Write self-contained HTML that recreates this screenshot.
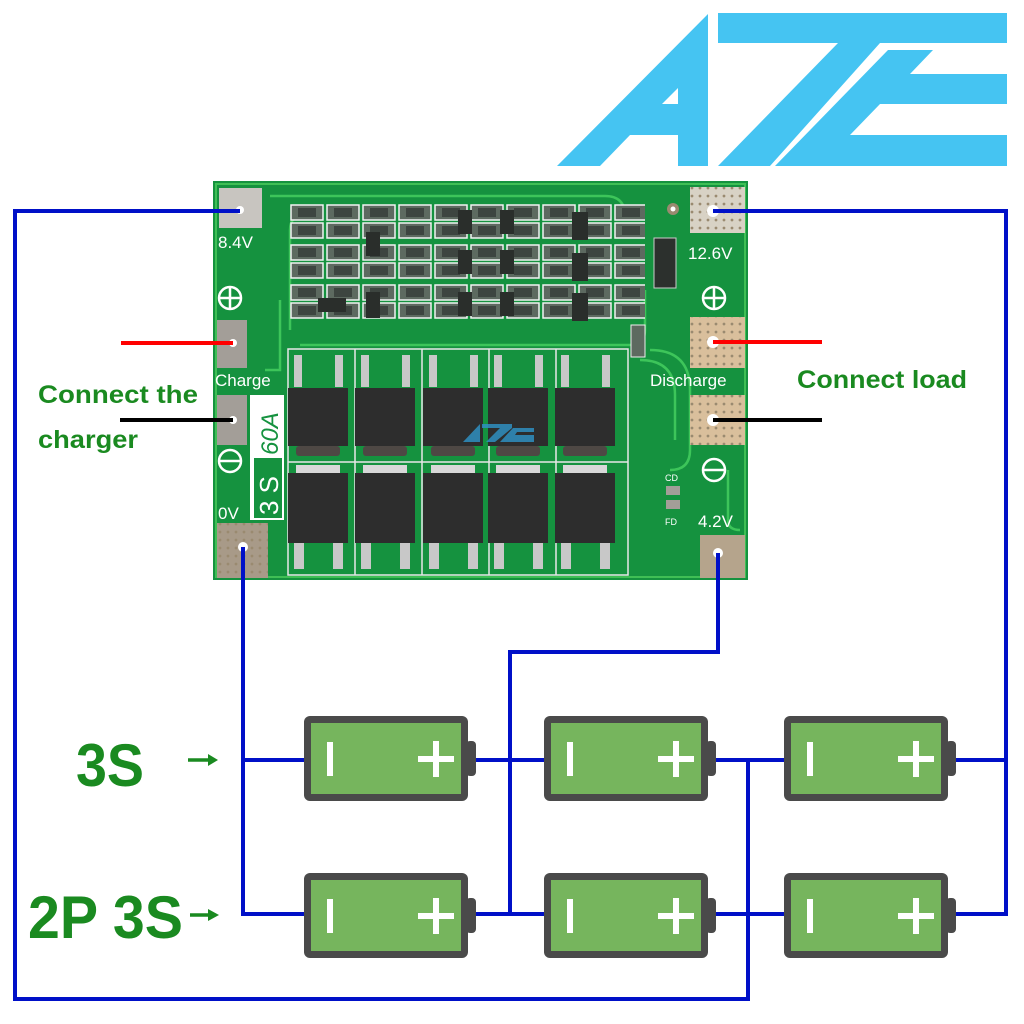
<!DOCTYPE html>
<html><head><meta charset="utf-8"><style>
html,body{margin:0;padding:0;background:#fff}
svg{display:block}
</style></head><body>
<svg width="1024" height="1024" viewBox="0 0 1024 1024" xmlns="http://www.w3.org/2000/svg">
<defs>
<pattern id="smd" x="290" y="203" width="36" height="40" patternUnits="userSpaceOnUse">
 <rect x="1" y="2" width="32" height="15" fill="#5d6a60" stroke="#f2f2f2" stroke-width="1.5"/>
 <rect x="8" y="5" width="18" height="9" fill="#3d4540"/>
 <rect x="1" y="20" width="32" height="15" fill="#5d6a60" stroke="#f2f2f2" stroke-width="1.5"/>
 <rect x="8" y="23" width="18" height="9" fill="#3d4540"/>
</pattern>
<pattern id="dots" width="8" height="8" patternUnits="userSpaceOnUse">
 <circle cx="4" cy="4" r="1.4" fill="#9a8a70"/>
</pattern>
</defs>
<rect width="1024" height="1024" fill="#fff"/>

<!-- logo -->
<g fill="#45c4f2">
 <polygon points="557,166 708,14 708,166 678,166 678,135 630,135 600,166"/>
 <polygon points="718,13 1007,13 1007,43 880,43 770,166 718,166 838,43 718,43"/>
 <polygon points="888,50 933,50 910,74 1007,74 1007,104 880,104 850,135 1007,135 1007,166 775,166"/>
</g>
<polygon points="662,104 678,88 678,104" fill="#fff"/>

<!-- PCB -->
<rect x="213" y="181" width="535" height="399" fill="#15923f"/>
<rect x="216" y="184" width="529" height="393" fill="none" stroke="#3fbf55" stroke-width="2"/>
<g fill="none" stroke="#3dc55a" stroke-width="2.5">
 <path d="M270,196 H605 Q625,196 625,216"/>
 <path d="M290,330 V230 Q290,215 305,215"/>
 <path d="M300,345 H630 Q645,345 645,330 V290"/>
 <path d="M265,370 H280 V300"/>
 <path d="M650,350 Q690,350 690,390 V450 Q690,470 670,470"/>
 <path d="M640,360 Q675,360 675,395 V440"/>
 <path d="M728,470 V520 Q728,530 740,530"/>
</g>
<rect x="290" y="203" width="355" height="120" fill="url(#smd)"/>
<g fill="#2a2e2b">
 <rect x="366" y="232" width="14" height="24"/><rect x="458" y="210" width="14" height="24"/>
 <rect x="458" y="250" width="14" height="24"/><rect x="458" y="292" width="14" height="24"/>
 <rect x="500" y="210" width="14" height="24"/><rect x="500" y="250" width="14" height="24"/>
 <rect x="500" y="292" width="14" height="24"/><rect x="572" y="212" width="16" height="28"/>
 <rect x="572" y="253" width="16" height="28"/><rect x="572" y="293" width="16" height="28"/>
 <rect x="318" y="298" width="28" height="14"/><rect x="366" y="292" width="14" height="26"/>
 <rect x="654" y="238" width="22" height="50" fill="#2c302d" stroke="#ccc" stroke-width="1"/>
</g>
<rect x="631" y="325" width="14" height="32" fill="#5d6a60" stroke="#eee"/>
<circle cx="673" cy="209" r="6" fill="#9a8a70"/><circle cx="673" cy="209" r="2.5" fill="#fff"/>

<!-- pads left -->
<rect x="219" y="188" width="43" height="40" fill="#c8c5c0"/>
<circle cx="240" cy="210" r="4" fill="#fff"/>
<text x="218" y="248" font-family="Liberation Sans,sans-serif" font-size="17" fill="#fff">8.4V</text>
<circle cx="230" cy="298" r="11" fill="none" stroke="#fff" stroke-width="2.5"/>
<path d="M219,298 H241 M230,287 V309" stroke="#fff" stroke-width="2.5"/>
<rect x="217" y="320" width="30" height="48" fill="#a39e98"/>
<circle cx="233" cy="343" r="4" fill="#fff"/>
<text x="215" y="386" font-family="Liberation Sans,sans-serif" font-size="17" fill="#fff">Charge</text>
<rect x="217" y="395" width="30" height="50" fill="#a39e98"/>
<circle cx="233" cy="420" r="4" fill="#fff"/>
<circle cx="230" cy="461" r="11" fill="none" stroke="#fff" stroke-width="2.5"/>
<path d="M219,461 H241" stroke="#fff" stroke-width="2.5"/>
<text x="218" y="519" font-family="Liberation Sans,sans-serif" font-size="17" fill="#fff">0V</text>
<rect x="217" y="523" width="51" height="55" fill="#a89a88"/>
<rect x="217" y="523" width="51" height="55" fill="url(#dots)"/>
<circle cx="243" cy="547" r="5" fill="#fff"/>
<rect x="250" y="395" width="34" height="125" fill="#fff"/>
<rect x="254" y="458" width="28" height="60" fill="#15923f"/>
<text transform="translate(278,515) rotate(-90)" font-family="Liberation Sans,sans-serif" font-size="26" fill="#fff">3 S</text>
<text transform="translate(278,455) rotate(-90)" font-family="Liberation Sans,sans-serif" font-size="24" font-style="italic" fill="#15923f">60A</text>

<!-- pads right -->
<rect x="690" y="187" width="55" height="46" fill="#d8d2c5"/>
<rect x="690" y="187" width="55" height="46" fill="url(#dots)"/>
<circle cx="713" cy="211" r="6" fill="#fff"/>
<text x="688" y="259" font-family="Liberation Sans,sans-serif" font-size="17" fill="#fff">12.6V</text>
<circle cx="714" cy="298" r="11" fill="none" stroke="#fff" stroke-width="2.5"/>
<path d="M703,298 H725 M714,287 V309" stroke="#fff" stroke-width="2.5"/>
<rect x="690" y="317" width="55" height="51" fill="#d9bf9c"/>
<rect x="690" y="317" width="55" height="51" fill="url(#dots)"/>
<circle cx="713" cy="342" r="6" fill="#fff"/>
<text x="650" y="386" font-family="Liberation Sans,sans-serif" font-size="17" fill="#fff">Discharge</text>
<rect x="690" y="395" width="55" height="50" fill="#d9bf9c"/>
<rect x="690" y="395" width="55" height="50" fill="url(#dots)"/>
<circle cx="713" cy="420" r="6" fill="#fff"/>
<circle cx="714" cy="470" r="11" fill="none" stroke="#fff" stroke-width="2.5"/>
<path d="M703,470 H725" stroke="#fff" stroke-width="2.5"/>
<text x="665" y="481" font-family="Liberation Sans,sans-serif" font-size="9" fill="#fff">CD</text>
<rect x="666" y="486" width="14" height="9" fill="#a39e98"/>
<rect x="666" y="500" width="14" height="9" fill="#a39e98"/>
<text x="665" y="525" font-family="Liberation Sans,sans-serif" font-size="9" fill="#fff">FD</text>
<text x="698" y="527" font-family="Liberation Sans,sans-serif" font-size="17" fill="#fff">4.2V</text>
<rect x="700" y="535" width="45" height="43" fill="#b5a48c"/>
<circle cx="718" cy="553" r="5" fill="#fff"/>

<!-- mosfets -->
<g>
 <rect x="288" y="349" width="340" height="226" fill="none" stroke="#e8e8e8" stroke-width="1.5"/>
 <path d="M355,349 V575 M422,349 V575 M489,349 V575 M556,349 V575 M288,462 H628" stroke="#e8e8e8" stroke-width="1.5"/>
</g>
<g id="mf">
 <rect x="294" y="355" width="8" height="32" fill="#c8c8c8"/><rect x="335" y="355" width="8" height="32" fill="#c8c8c8"/>
 <rect x="288" y="388" width="60" height="58" fill="#2d2d2d"/>
 <rect x="296" y="446" width="44" height="10" rx="3" fill="#4e4844"/>
 <rect x="296" y="465" width="44" height="10" fill="#d8d8d8"/>
 <rect x="288" y="473" width="60" height="70" fill="#2d2d2d"/>
 <rect x="294" y="543" width="10" height="26" fill="#c8c8c8"/><rect x="333" y="543" width="10" height="26" fill="#c8c8c8"/>
</g>
<use href="#mf" x="67"/><use href="#mf" x="135"/><use href="#mf" x="200"/><use href="#mf" x="267"/>
<g fill="#2f8fc0" opacity="0.85">
 <polygon points="463,442 480,424 480,442"/>
 <polygon points="482,424 512,424 512,428 495,442 486,442 500,428 482,428"/>
 <polygon points="500,442 513,428 534,428 534,432 517,432 515,435 534,435 534,442"/>
</g>

<!-- red/black wires -->
<path d="M121,343 H233" stroke="#ff0000" stroke-width="4"/>
<path d="M120,420 H233" stroke="#000" stroke-width="4"/>
<path d="M713,342 H822" stroke="#ff0000" stroke-width="4"/>
<path d="M713,420 H822" stroke="#000" stroke-width="4"/>

<!-- blue wires -->
<g fill="none" stroke="#0010c8" stroke-width="4">
 <path d="M240,211 H15 V999 H748 V760"/>
 <path d="M713,211 H1006 V914 H946"/>
 <path d="M946,760 H1006"/>
 <path d="M243,547 V914 H304"/>
 <path d="M243,760 H304"/>
 <path d="M718,553 V652 H510 V914"/>
 <path d="M466,760 H545 M466,914 H545"/>
 <path d="M706,760 H784 M706,914 H784"/>
</g>

<!-- batteries -->
<g id="bat">
 <rect x="466" y="741" width="10" height="35" rx="4" fill="#4a4a4a"/>
 <rect x="304" y="716" width="164" height="85" rx="6" fill="#4a4a4a"/>
 <rect x="311" y="723" width="150" height="71" fill="#76b55d"/>
 <rect x="327" y="742" width="6" height="34" fill="#fff"/>
 <rect x="418" y="756" width="36" height="6" fill="#fff"/>
 <rect x="433" y="741" width="6" height="36" fill="#fff"/>
</g>
<use href="#bat" x="240"/><use href="#bat" x="480"/>
<use href="#bat" y="157"/><use href="#bat" x="240" y="157"/><use href="#bat" x="480" y="157"/>

<!-- texts -->
<g font-family="Liberation Sans,sans-serif" font-weight="bold" fill="#1a8a20">
 <text x="38" y="403" font-size="25" textLength="160" lengthAdjust="spacingAndGlyphs">Connect the</text>
 <text x="38" y="448" font-size="25" textLength="100" lengthAdjust="spacingAndGlyphs">charger</text>
 <text x="797" y="388" font-size="25" textLength="170" lengthAdjust="spacingAndGlyphs">Connect load</text>
 <text x="76" y="786" font-size="60" textLength="68" lengthAdjust="spacingAndGlyphs">3S</text>
 <text x="28" y="938" font-size="60" textLength="155" lengthAdjust="spacingAndGlyphs">2P 3S</text>
</g>
<g stroke="#1a8a20" stroke-width="3.5" fill="#1a8a20">
 <path d="M188,760 H212"/><polygon points="208,754 218,760 208,766" stroke="none"/>
 <path d="M190,915 H212"/><polygon points="208,909 219,915 208,921" stroke="none"/>
</g>
</svg>
</body></html>
